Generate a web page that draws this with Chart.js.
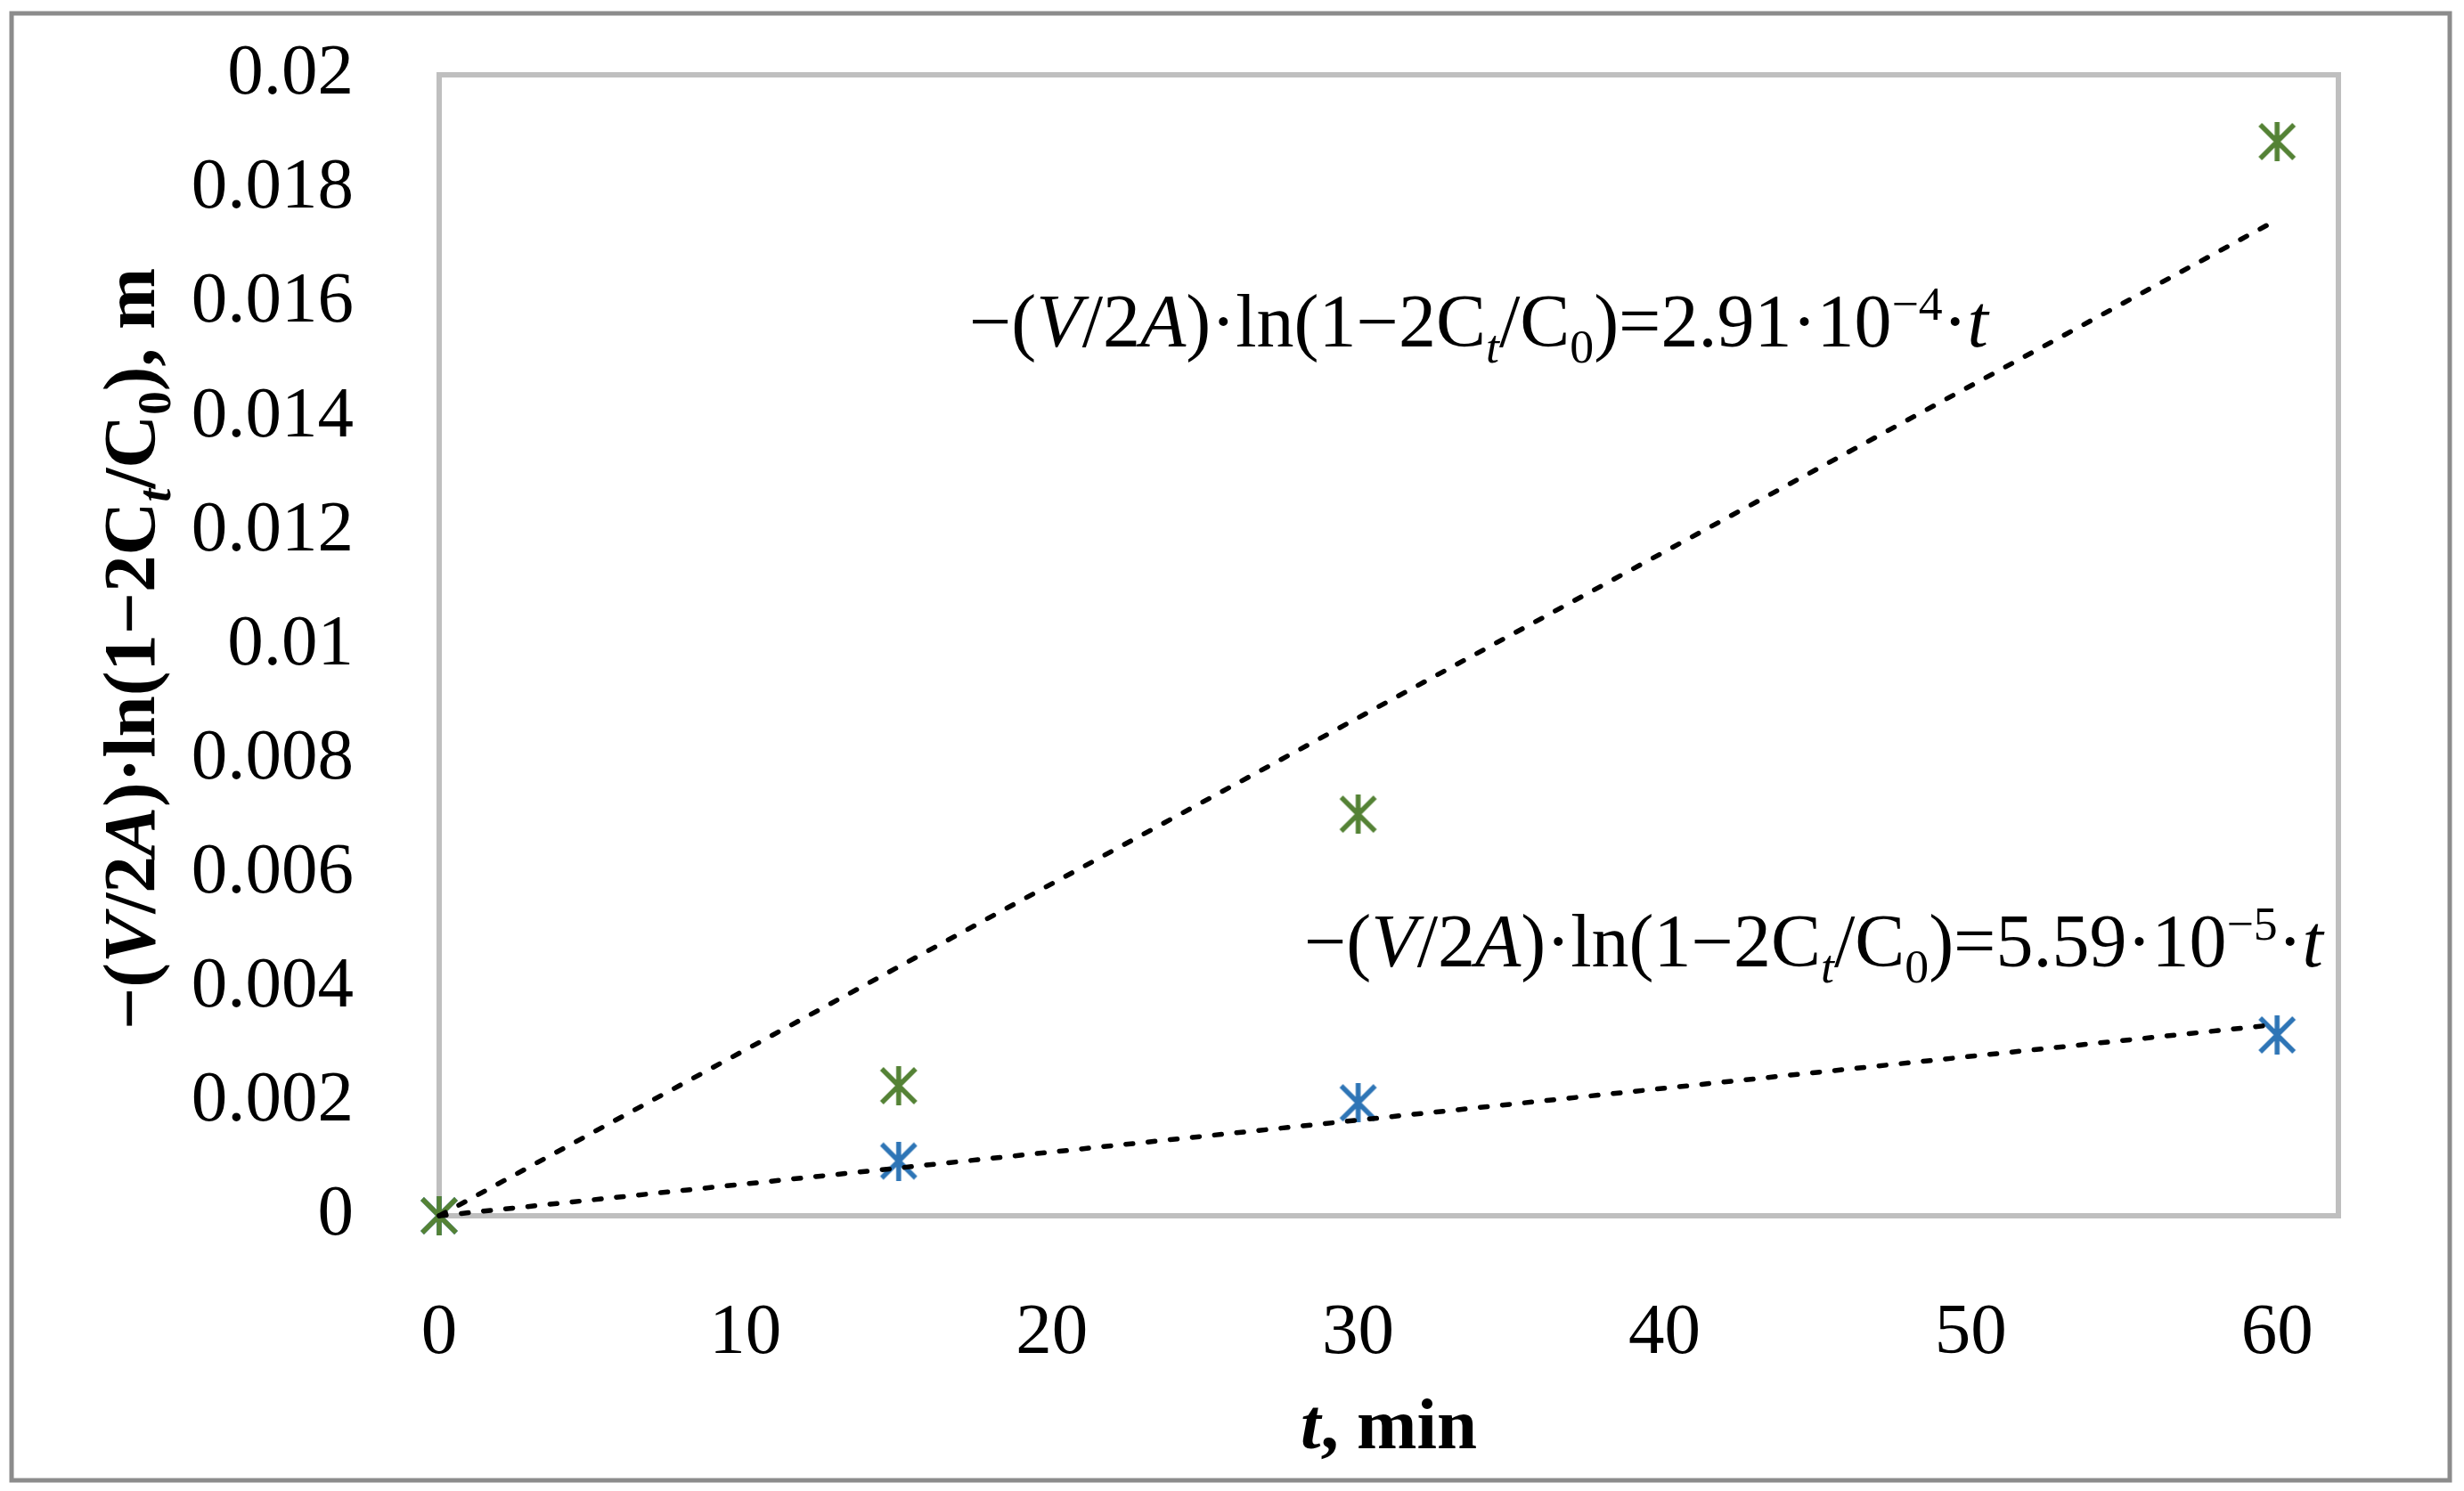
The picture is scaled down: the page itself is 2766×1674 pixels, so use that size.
<!DOCTYPE html>
<html>
<head>
<meta charset="utf-8">
<script src="https://cdn.jsdelivr.net/npm/chart.js@4.4.1/dist/chart.umd.min.js"></script>
<style>
  html, body { margin: 0; padding: 0; background: #fff; }
  #wrap { width: 2766px; height: 1674px; position: relative; }
</style>
</head>
<body>
<div id="wrap"><canvas id="c"></canvas></div>
<script>
// data
const timeMin = [0, 15, 30, 60];
const greenVals = [0, 0.00228, 0.00704, 0.01883];
const blueVals = [0, 0.00096, 0.00198, 0.00317];
const trendT = [0, 60];
const greenTrend = [0, 0.01746];   // 2.91e-4 * t
const blueTrend = [0, 0.003354];   // 5.59e-5 * t
const xRange = [0, 62];
const yRange = [0, 0.02];
const xStep = 10;
const yStep = 0.002;

const GREEN = '#548235';
const BLUE = '#2E75B6';
const FONT = "'Liberation Serif', 'Times New Roman', serif";
const FS = 81;
const EQ_FS = 84;
const YT_FS = 83;

const pts = (xs, ys) => xs.map((x, i) => ({ x: x, y: ys[i] }));

// Excel style "star" marker: X plus a vertical bar
function starMarker(color) {
    const s = 44;
    const cv = document.createElement('canvas');
    cv.width = s; cv.height = s;
    const g = cv.getContext('2d');
    g.strokeStyle = color;
    g.lineWidth = 5.5;
    g.beginPath();
    g.moveTo(3, 3); g.lineTo(s - 3, s - 3);
    g.moveTo(s - 3, 3); g.lineTo(3, s - 3);
    g.moveTo(s / 2, 0); g.lineTo(s / 2, s);
    g.stroke();
    return cv;
}

// runs: {t, i (italic), sub, sup}
function runFont(r, size, bold) {
    const sz = (r.sub || r.sup) ? size * 0.64 : size;
    return (r.i ? 'italic ' : '') + (bold ? 'bold ' : '') + sz + 'px ' + FONT;
}
function richWidth(ctx, runs, size, bold) {
    let w = 0;
    runs.forEach(r => { ctx.font = runFont(r, size, bold); w += ctx.measureText(r.t).width; });
    return w;
}
function drawRich(ctx, runs, x, y, size, bold, align) {
    const w = richWidth(ctx, runs, size, bold);
    let cx = align === 'center' ? x - w / 2 : x;
    ctx.textBaseline = 'alphabetic';
    ctx.textAlign = 'left';
    ctx.fillStyle = '#000';
    const base = y + size * 0.32;
    runs.forEach(r => {
        ctx.font = runFont(r, size, bold);
        let dy = 0;
        if (r.sub) dy = size * 0.22;
        if (r.sup) dy = -size * 0.36;
        ctx.fillText(r.t, cx, base + dy);
        cx += ctx.measureText(r.t).width;
    });
}

const lhs = [
    { t: '\u2212(' }, { t: 'V', i: true }, { t: '/2' }, { t: 'A', i: true },
    { t: ')\u00b7ln(1\u22122C' }, { t: 't', i: true, sub: true }, { t: '/C' }, { t: '0', sub: true }, { t: ')' }
];
const eqGreen = lhs.concat([{ t: '=2.91\u00b710' }, { t: '\u22124', sup: true }, { t: '\u00b7' }, { t: 't', i: true }]);
const eqBlue = lhs.concat([{ t: '=5.59\u00b710' }, { t: '\u22125', sup: true }, { t: '\u00b7' }, { t: 't', i: true }]);
const yTitle = lhs.concat([{ t: ', m' }]);
const xTitle = [{ t: 't', i: true }, { t: ', min' }];

const decorPlugin = {
    id: 'decor',
    beforeDatasetsDraw(chart) {
        const { ctx, chartArea: a } = chart;
        ctx.save();
        ctx.strokeStyle = '#BFBFBF';
        ctx.lineWidth = 6;
        ctx.strokeRect(a.left, a.top, a.right - a.left, a.bottom - a.top);
        ctx.restore();
    },
    afterDraw(chart) {
        const { ctx, chartArea: a } = chart;
        ctx.save();
        // outer frame
        ctx.strokeStyle = '#8C8C8C';
        ctx.lineWidth = 5;
        ctx.strokeRect(13, 15, 2737, 1647);
        // trendline equations
        drawRich(ctx, eqGreen, 1088, 362, EQ_FS, false, 'left');
        drawRich(ctx, eqBlue, 1464, 1058, EQ_FS, false, 'left');
        // axis titles
        drawRich(ctx, xTitle, (a.left + a.right) / 2, 1600, FS, true, 'center');
        ctx.translate(146, (a.top + a.bottom) / 2 + 4);
        ctx.rotate(-Math.PI / 2);
        drawRich(ctx, yTitle, 0, 0, YT_FS, true, 'center');
        ctx.restore();
    }
};

const tickFont = { family: FONT, size: FS };
const noOverflow = s => { s.paddingTop = 0; s.paddingBottom = 0; s.paddingLeft = 0; s.paddingRight = 0; };

new Chart(document.getElementById('c'), {
    type: 'scatter',
    data: {
        datasets: [
            { data: pts(trendT, greenTrend), showLine: true, pointRadius: 0, borderColor: '#000',
              borderWidth: 5.5, borderDash: [8, 17], borderCapStyle: 'round', clip: false },
            { data: pts(trendT, blueTrend), showLine: true, pointRadius: 0, borderColor: '#000',
              borderWidth: 5.5, borderDash: [8, 17], borderCapStyle: 'round', clip: false },
            { data: pts(timeMin, greenVals), pointStyle: starMarker(GREEN), pointRadius: 22, clip: false },
            { data: pts(timeMin, blueVals), pointStyle: starMarker(BLUE), pointRadius: 22, clip: false }
        ]
    },
    options: {
        responsive: true,
        maintainAspectRatio: false,
        devicePixelRatio: 1,
        animation: false,
        layout: { padding: { top: 84, right: 141, left: 0, bottom: 0 } },
        plugins: { legend: { display: false }, tooltip: { enabled: false } },
        scales: {
            x: {
                min: xRange[0], max: xRange[1],
                grid: { display: false }, border: { display: false },
                ticks: { stepSize: xStep, includeBounds: false, font: tickFont, color: '#000', padding: 76, maxRotation: 0 },
                afterFit: s => { s.height = 309; noOverflow(s); }
            },
            y: {
                min: yRange[0], max: yRange[1],
                grid: { display: false }, border: { display: false },
                ticks: { stepSize: yStep, font: tickFont, color: '#000', padding: 88,
                         callback: v => String(parseFloat(v.toFixed(4))) },
                afterFit: s => { s.width = 493; noOverflow(s); }
            }
        }
    },
    plugins: [decorPlugin]
});
</script>
</body>
</html>
